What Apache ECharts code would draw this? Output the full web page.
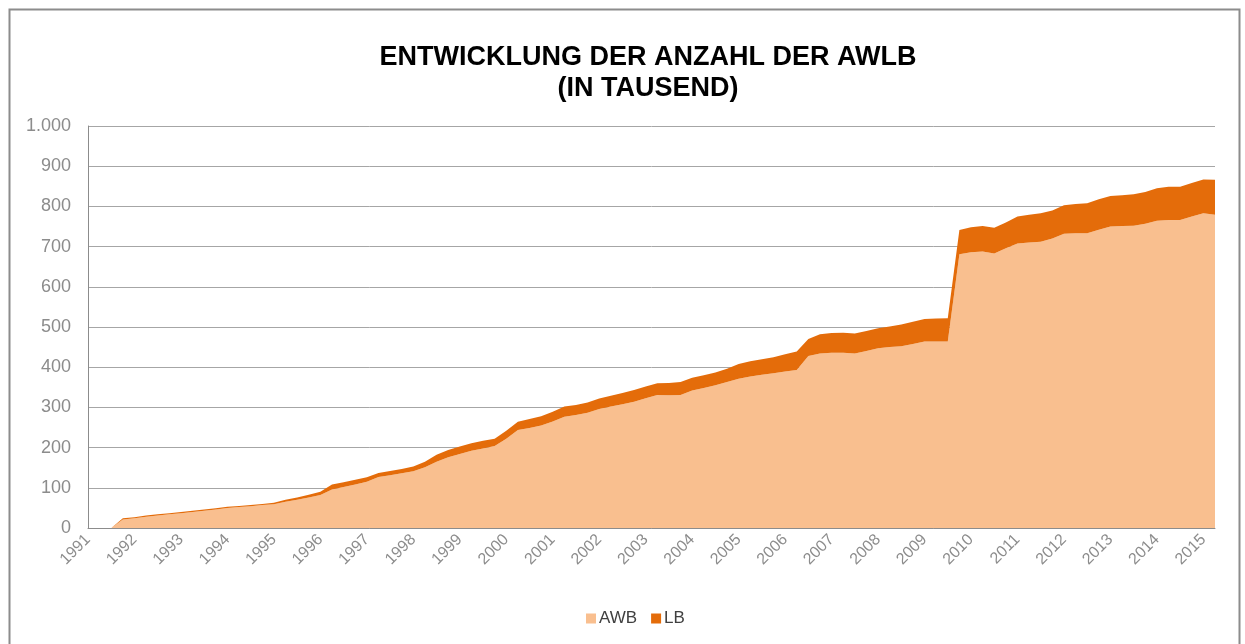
<!DOCTYPE html>
<html>
<head>
<meta charset="utf-8">
<script src="https://cdn.jsdelivr.net/npm/echarts@6/dist/echarts.min.js"></script>
<style>
html,body{margin:0;padding:0;background:#fff;}
#chart{width:1245px;height:644px;}
</style>
</head>
<body>
<div id="chart"></div>
<script>
// Year labels (one tick label per year, quarterly data)
const years = [1991,1992,1993,1994,1995,1996,1997,1998,1999,2000,2001,2002,2003,2004,2005,2006,2007,2008,2009,2010,2011,2012,2013,2014,2015];
const quarters = ["Q1","Q2","Q3","Q4"];
// Categories: 1991 Q1 ... 2015 Q2 (98 quarters)
const categories = [];
years.forEach(function(y){ quarters.forEach(function(q){ categories.push(y + " " + q); }); });
categories.length = 98;

// AWB (in Tausend)
const awb = [0,0,0,21,24,28,31,34,37,40,43,46,50,52,54,57,
  59,65,70,76,82,96,102,108,115,127,131,136,141,151,165,176,184,192,198,204,
  222,244,249,255,265,277,281,287,296,302,308,314,323,331,330,331,342,348,355,363,
  371,377,381,385,389,393,428,434,436,436,434,440,447,450,452,458,464,464,464,
  681,686,688,683,696,708,710,712,720,732,733,733,742,750,751,752,757,764,766,766,775,783,779];
// LB (in Tausend)
const lb = [0,0,0,3,3,3,3,3,3,3,3,3,3,3,3,3,
  4,5,6,7,8,12,12,12,11,10,11,11,12,14,17,18,19,19,19,18,
  20,20,22,23,24,25,25,25,26,27,28,29,29,29,31,32,32,32,32,33,
  37,38,39,40,43,46,42,48,49,50,50,50,50,51,54,55,56,57,58,
  60,62,63,64,64,67,69,71,70,71,73,75,76,76,77,78,79,81,83,83,83,84,87];

const FONT = "'Liberation Sans', Arial, sans-serif";
const chart = echarts.init(document.getElementById('chart'), null, {renderer: 'canvas'});
chart.setOption({
  backgroundColor: '#ffffff',
  animation: false,
  graphic: [{
    type: 'rect', left: 7, top: 7, silent: true,
    shape: {width: 1230, height: 660},
    style: {fill: 'none', stroke: '#8c8c8c', lineWidth: 2}
  }],
  title: {
    text: 'ENTWICKLUNG DER ANZAHL DER AWLB\n(IN TAUSEND)',
    left: 643, top: 37, textAlign: 'center',
    textStyle: {fontFamily: FONT, fontSize: 27, fontWeight: 'bold', color: '#000', lineHeight: 31}
  },
  legend: {
    bottom: 12, left: 581,
    icon: 'rect', itemWidth: 10, itemHeight: 10, itemGap: 14,
    textStyle: {fontFamily: FONT, fontSize: 17, color: '#404040', padding: [0,0,0,-2]},
    data: ['AWB', 'LB']
  },
  grid: {left: 88, right: 30, top: 126, bottom: 116, containLabel: false},
  xAxis: {
    type: 'category', data: categories, boundaryGap: false,
    axisLine: {show: true, lineStyle: {color: '#8c8c8c', width: 1}},
    axisTick: {show: false},
    axisLabel: {
      interval: function(i){ return i % 4 === 0; },
      formatter: function(v){ return v.split(' ')[0]; },
      rotate: 45, color: '#8c8c8c', fontFamily: FONT, fontSize: 16, margin: 9
    },
    splitLine: {show: false}
  },
  yAxis: {
    type: 'value', min: 0, max: 1000, interval: 100,
    axisLine: {show: true, lineStyle: {color: '#8c8c8c', width: 1}},
    axisTick: {show: false},
    axisLabel: {
      color: '#8c8c8c', fontFamily: FONT, fontSize: 18, margin: 17,
      formatter: function(v){ return v >= 1000 ? (Math.floor(v/1000) + '.' + String(v % 1000).padStart(3,'0')) : String(v); }
    },
    splitLine: {lineStyle: {color: '#a6a6a6', width: 1}}
  },
  series: [
    {name: 'AWB', type: 'line', stack: 'total', data: awb, symbol: 'none', showSymbol: false,
     lineStyle: {width: 0}, areaStyle: {color: '#F9BF8F', opacity: 1}, itemStyle: {color: '#F9BF8F'}},
    {name: 'LB', type: 'line', stack: 'total', data: lb, symbol: 'none', showSymbol: false,
     lineStyle: {width: 0}, areaStyle: {color: '#E46C0A', opacity: 1}, itemStyle: {color: '#E46C0A'}}
  ]
});
</script>
</body>
</html>
